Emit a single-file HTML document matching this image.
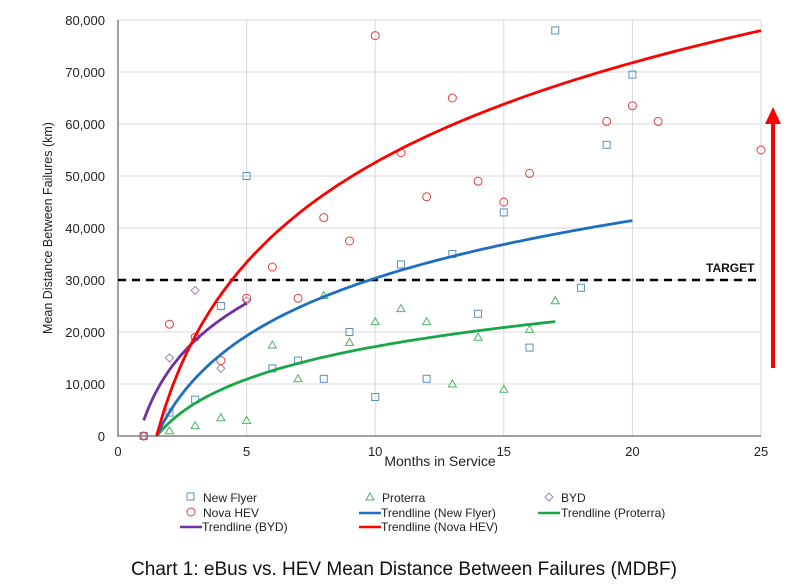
<!DOCTYPE html>
<html><head><meta charset="utf-8"><style>
body{margin:0;background:#fff;}
svg{display:block;font-family:"Liberation Sans",sans-serif;}
</style></head><body>
<svg id="chart" width="803" height="585">
<g id="grid"></g>
<g id="axes"></g>
<g id="marks"></g>
<text x="440" y="466" font-size="14" text-anchor="middle" fill="#222">Months in Service</text>
<text transform="translate(52,228) rotate(-90)" font-size="12.5" text-anchor="middle" fill="#222">Mean Distance Between Failures (km)</text>
<text x="706" y="272" font-size="12" font-weight="bold" fill="#111">TARGET</text>
<g>
<line x1="773" y1="368" x2="773" y2="122" stroke="#f00" stroke-width="4"/>
<polygon points="765,124 781,124 773,107" fill="#f00"/>
</g>
<g font-size="12" fill="#222">
<g><rect x="187" y="493" width="7" height="7" fill="none" stroke="#5b8fc4"/><text x="203" y="502">New Flyer</text></g>
<g><polygon points="370,493 374,500 366,500" fill="none" stroke="#4bb36a"/><text x="382" y="502">Proterra</text></g>
<g><polygon points="549,493 553,497 549,501 545,497" fill="none" stroke="#a080b8"/><text x="561" y="502">BYD</text></g>
<g><circle cx="191" cy="512" r="4" fill="none" stroke="#e04040"/><text x="203" y="517">Nova HEV</text></g>
<g><line x1="359" y1="513" x2="381" y2="513" stroke="#1f6fc0" stroke-width="2.5"/><text x="381" y="517">Trendline (New Flyer)</text></g>
<g><line x1="538" y1="513" x2="560" y2="513" stroke="#18a84a" stroke-width="2.5"/><text x="561" y="517">Trendline (Proterra)</text></g>
<g><line x1="180" y1="527" x2="202" y2="527" stroke="#7030a0" stroke-width="2.5"/><text x="202" y="531">Trendline (BYD)</text></g>
<g><line x1="359" y1="527" x2="381" y2="527" stroke="#f00" stroke-width="2.5"/><text x="381" y="531">Trendline (Nova HEV)</text></g>
</g>
<text x="404" y="575" font-size="19" text-anchor="middle" fill="#111">Chart 1: eBus vs. HEV Mean Distance Between Failures (MDBF)</text>
</svg>
<script>
const xTicks=[0,5,10,15,20,25];
const yTicks=[0,10000,20000,30000,40000,50000,60000,70000,80000];
const yTickLabels=["0","10,000","20,000","30,000","40,000","50,000","60,000","70,000","80,000"];
const target=30000;
const nfX=[1,2,3,4,5,6,7,8,9,10,11,12,13,14,15,16,17,18,19,20];
const nfY=[0,4500,7000,25000,50000,13000,14500,11000,20000,7500,33000,11000,35000,23500,43000,17000,78000,28500,56000,69500];
const prX=[2,3,4,5,6,7,8,9,10,11,12,13,14,15,16,17];
const prY=[1000,2000,3500,3000,17500,11000,27000,18000,22000,24500,22000,10000,19000,9000,20500,26000];
const bydX=[1,2,3,4,5];
const bydY=[0,15000,28000,13000,26000];
const novaX=[1,2,3,4,5,6,7,8,9,10,11,12,13,14,15,16,19,20,21,25];
const novaY=[0,21500,19000,14500,26500,32500,26500,42000,37500,77000,54500,46000,65000,49000,45000,50500,60500,63500,60500,55000];
// log trendlines: y = a*ln(x)+b over [x0,x1]
const trendNF=[16000,-6500,1.5,20];
const trendPR=[9060,-3670,1.5,17];
const trendBYD=[14000,3000,1,5];
const trendNova=[27700,-11200,1.5,25];

const NS="http://www.w3.org/2000/svg";
const X0=118,XS=25.72,Y0=436,YS=416/80000;
const sx=v=>X0+v*XS, sy=v=>Y0-v*YS;
function mk(tag,attrs,parent){const e=document.createElementNS(NS,tag);for(const k in attrs)e.setAttribute(k,attrs[k]);parent.appendChild(e);return e;}
const grid=document.getElementById('grid'),axes=document.getElementById('axes'),marks=document.getElementById('marks');
xTicks.forEach(t=>{
  if(t>0){const l=mk('line',{x1:sx(t),x2:sx(t),y1:sy(0),y2:sy(80000),stroke:'#d9d9d9'},grid);
  
  }
  const tx=mk('text',{x:sx(t),y:Y0+20,'font-size':13,'text-anchor':'middle',fill:'#222'},axes);tx.textContent=t;
  
  
});
yTicks.forEach((t,i)=>{
  if(t>0){const l=mk('line',{x1:X0,x2:sx(25),y1:sy(t),y2:sy(t),stroke:'#d9d9d9'},grid);
  
  }
  const tx=mk('text',{x:105,y:sy(t)+5,'font-size':13,'text-anchor':'end',fill:'#222'},axes);tx.textContent=yTickLabels[i];
  
  
});
const ax=mk('path',{d:`M${X0},${sy(80000)}V${Y0}H${sx(25)}`,fill:'none',stroke:'#808080','stroke-width':1.5},axes);


const tl=mk('line',{x1:X0,x2:sx(25),y1:sy(target),y2:sy(target),stroke:'#000','stroke-width':2.5,'stroke-dasharray':'8,6'},marks);


function trend(p,color,name){
  let d='';for(let i=0;i<=80;i++){const x=p[2]+(p[3]-p[2])*i/80;const y=p[0]*Math.log(x)+p[1];d+=(i?'L':'M')+sx(x).toFixed(1)+','+sy(y).toFixed(1);}
  const e=mk('path',{d:d,fill:'none',stroke:color,'stroke-width':2.8},marks);
  
  
}
function pts(xs,ys,shape,color,name){
  xs.forEach((x,i)=>{const cx=sx(x),cy=sy(ys[i]);let e;
    if(shape==='sq')e=mk('rect',{x:cx-3.5,y:cy-3.5,width:7,height:7,fill:'none',stroke:color},marks);
    else if(shape==='tri')e=mk('polygon',{points:`${cx},${cy-4} ${cx+4},${cy+3} ${cx-4},${cy+3}`,fill:'none',stroke:color},marks);
    else if(shape==='dia')e=mk('polygon',{points:`${cx},${cy-4} ${cx+4},${cy} ${cx},${cy+4} ${cx-4},${cy}`,fill:'none',stroke:color},marks);
    else e=mk('circle',{cx:cx,cy:cy,r:4,fill:'none',stroke:color},marks);
    
    
  });
}
pts(nfX,nfY,'sq','#5b8fc4','new-flyer-point');
pts(prX,prY,'tri','#4bb36a','proterra-point');
pts(bydX,bydY,'dia','#a080b8','byd-point');
pts(novaX,novaY,'circ','#e04040','nova-hev-point');
trend(trendPR,'#18a84a','trendline-proterra');
trend(trendNF,'#1f6fc0','trendline-new-flyer');
trend(trendBYD,'#7030a0','trendline-byd');
trend(trendNova,'#f00','trendline-nova-hev');
</script>
</body></html>
